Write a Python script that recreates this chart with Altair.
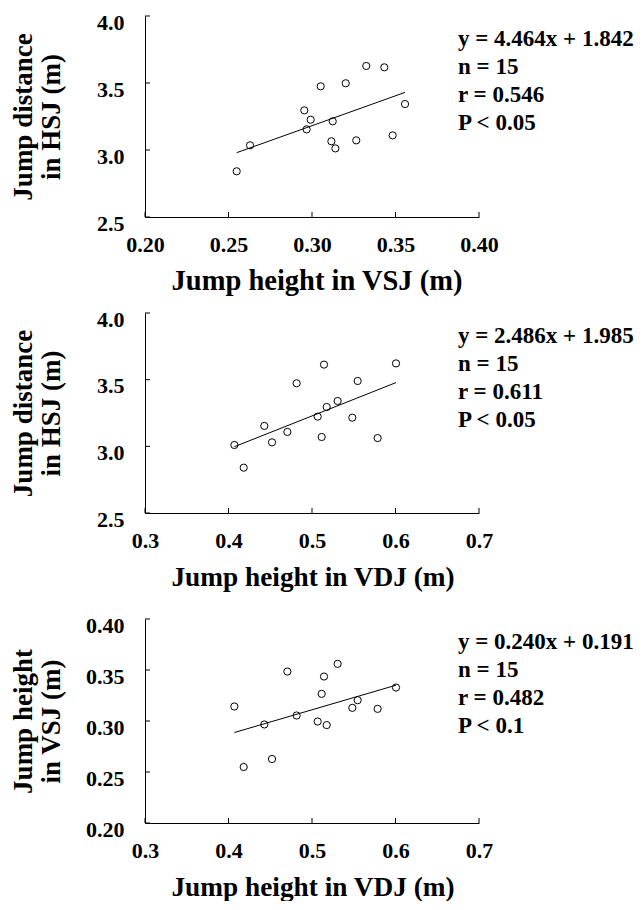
import altair as alt
import pandas as pd

FONT = "Liberation Serif"

# ---------- Panel 1: VSJ height vs HSJ distance ----------
p1_x = [0.2549, 0.2629, 0.2954, 0.2968, 0.2992, 0.3052, 0.3124, 0.3116,
        0.3140, 0.3202, 0.3265, 0.3325, 0.3433, 0.3483, 0.3557]
p1_y = [2.841, 3.035, 3.296, 3.154, 3.226, 3.475, 3.214, 3.065,
        3.012, 3.498, 3.072, 3.627, 3.617, 3.109, 3.343]
p1_line_x = [0.2549, 0.3557]
p1_line_y = [2.980, 3.430]
p1_text = ["y = 4.464x + 1.842", "n = 15", "r = 0.546", "P < 0.05"]

# ---------- Panel 2: VDJ height vs HSJ distance ----------
p2_x = [0.4070, 0.4182, 0.4429, 0.4521, 0.4705, 0.4816, 0.5068, 0.5116,
        0.5144, 0.5176, 0.5307, 0.5483, 0.5547, 0.5786, 0.6006]
p2_y = [3.010, 2.840, 3.153, 3.030, 3.108, 3.473, 3.223, 3.070,
        3.613, 3.295, 3.340, 3.215, 3.490, 3.062, 3.622]
p2_line_x = [0.4070, 0.6006]
p2_line_y = [2.997, 3.478]
p2_text = ["y = 2.486x + 1.985", "n = 15", "r = 0.611", "P < 0.05"]

# ---------- Panel 3: VDJ height vs VSJ height ----------
p3_x = [0.4070, 0.4182, 0.4429, 0.4521, 0.4705, 0.4816, 0.5068, 0.5116,
        0.5144, 0.5176, 0.5307, 0.5483, 0.5547, 0.5786, 0.6006]
p3_y = [0.3142, 0.2549, 0.2966, 0.2627, 0.3485, 0.3054, 0.2995, 0.3266,
        0.3436, 0.2960, 0.3560, 0.3129, 0.3204, 0.3119, 0.3328]
p3_line_x = [0.4070, 0.6006]
p3_line_y = [0.2887, 0.3351]
p3_text = ["y = 0.240x + 0.191", "n = 15", "r = 0.482", "P < 0.1"]

# axis ticks / labels
hsj_ticks = [2.5, 3.0, 3.5, 4.0]
vsj_ticks_x = [0.20, 0.25, 0.30, 0.35, 0.40]
vdj_ticks = [0.3, 0.4, 0.5, 0.6, 0.7]
vsj_ticks_y = [0.20, 0.25, 0.30, 0.35, 0.40]

W = 334


def panel(px, py, lx, ly, text_lines, xticks, xfmt, xtitle, yticks, yfmt,
          ytitle, H, title_x, title_size):
    xs = alt.Scale(domain=[xticks[0], xticks[-1]], nice=False, zero=False)
    ys = alt.Scale(domain=[yticks[0], yticks[-1]], nice=False, zero=False)
    xaxis = alt.Axis(values=xticks, format=xfmt, title=xtitle,
                     titleX=title_x, titleY=72, titleBaseline="alphabetic",
                     titleAlign="center", titleFontSize=title_size,
                     labelPadding=17, labelFlush=False)
    yaxis = alt.Axis(values=yticks, format=yfmt, title=ytitle,
                     titleAngle=270, titleX=-122, titleY=H / 2,
                     titleAlign="center", titleBaseline="middle",
                     titleLineHeight=28, labelPadding=21, labelOffset=6,
                     labelFlush=False)
    X = alt.X("x:Q", scale=xs, axis=xaxis)
    Y = alt.Y("y:Q", scale=ys, axis=yaxis)

    pts = pd.DataFrame({"x": px, "y": py})
    line = pd.DataFrame({"x": lx, "y": ly})
    xt = pd.DataFrame({"x": xticks})
    yt = pd.DataFrame({"y": yticks})
    txt = pd.DataFrame({"t": ["\n".join(text_lines)]})

    scatter = alt.Chart(pts).mark_point(
        shape="circle", filled=False, color="black", size=52, strokeWidth=1,
        opacity=1
    ).encode(x=X, y=Y)

    reg = alt.Chart(line).mark_line(color="black", strokeWidth=1).encode(
        x=X, y=Y)

    xtick = alt.Chart(xt).mark_rule(color="black", strokeWidth=1).encode(
        x=X, y=alt.value(H), y2=alt.value(H - 5))

    ytick = alt.Chart(yt).mark_rule(color="black", strokeWidth=1).encode(
        y=Y, x=alt.value(0), x2=alt.value(5))

    ann = alt.Chart(txt).mark_text(
        align="left", baseline="alphabetic", lineBreak="\n", lineHeight=28,
        font=FONT, fontWeight="bold", fontSize=23, color="black"
    ).encode(x=alt.value(313), y=alt.value(30), text="t:N")

    return alt.layer(scatter, reg, xtick, ytick, ann).properties(
        width=W, height=H)


c1 = panel(p1_x, p1_y, p1_line_x, p1_line_y, p1_text, vsj_ticks_x, ".2f",
           "Jump height in VSJ (m)", hsj_ticks, ".1f",
           ["Jump distance", "in HSJ (m)"], 201, 171.5, 28.5)
c2 = panel(p2_x, p2_y, p2_line_x, p2_line_y, p2_text, vdj_ticks, ".1f",
           "Jump height in VDJ (m)", hsj_ticks, ".1f",
           ["Jump distance", "in HSJ (m)"], 200, 167.5, 27.3)
c3 = panel(p3_x, p3_y, p3_line_x, p3_line_y, p3_text, vdj_ticks, ".1f",
           "Jump height in VDJ (m)", vsj_ticks_y, ".2f",
           ["Jump height", "in VSJ (m)"], 204, 167.5, 27.3)

top = alt.vconcat(c1, c2, spacing=13)
chart = alt.vconcat(top, c3, spacing=23).properties(
    padding={"left": 0, "top": 3, "right": 0, "bottom": 0}
).configure_view(stroke=None).configure_axis(
    grid=False, ticks=False, tickSize=0, domainColor="black", domainWidth=1,
    labelFont=FONT, labelFontWeight="bold", labelFontSize=22,
    labelColor="black", titleFont=FONT, titleFontWeight="bold",
    titleFontSize=27, titleColor="black"
)

chart.save("out.html", embed_options={"renderer": "svg", "actions": False})
